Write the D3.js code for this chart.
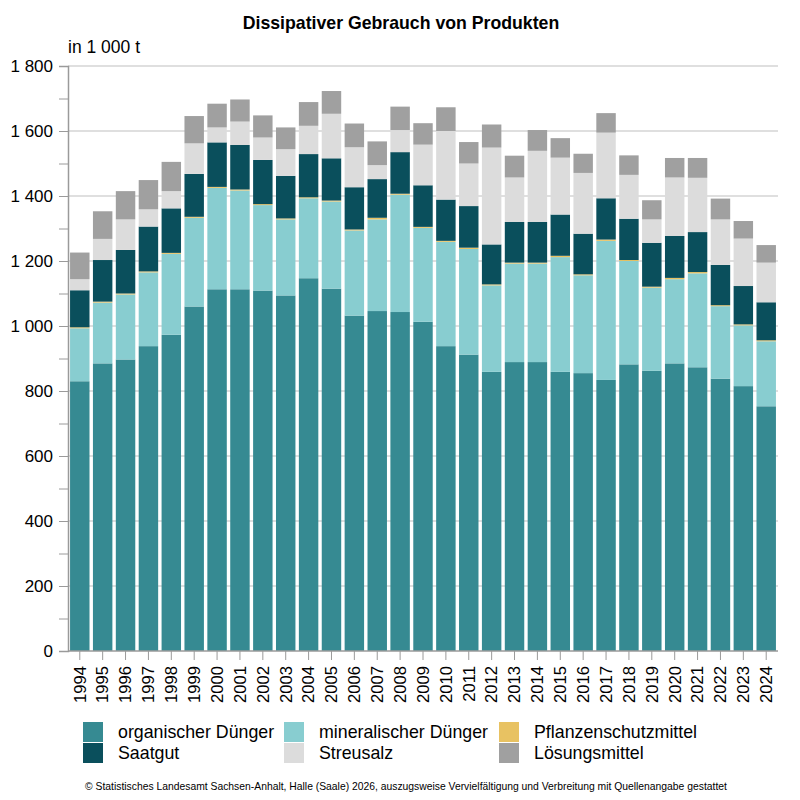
<!DOCTYPE html>
<html><head><meta charset="utf-8">
<script src="https://cdn.jsdelivr.net/npm/d3@7/dist/d3.min.js"></script>
<style>body{margin:0;background:#fff}svg{font-family:"Liberation Sans",Arial,sans-serif}</style>
</head><body><svg id="c" width="800" height="800"></svg>
<script>
const years = ["1994","1995","1996","1997","1998","1999","2000","2001","2002","2003","2004","2005","2006","2007","2008","2009","2010","2011","2012","2013","2014","2015","2016","2017","2018","2019","2020","2021","2022","2023","2024"];
const organisch = [830,885,897,938,973,1060,1113,1113,1109,1094,1147,1115,1032,1046,1043,1013,938,912,859,889,889,859,855,834,882,862,885,873,838,815,753];
const mineralisch = [163,187,200,227,249,273,312,304,263,234,246,268,262,282,361,289,321,325,266,303,303,353,301,428,318,256,259,289,223,187,200];
const pflanzenschutz = [3,3,3,3,3,3,3,3,3,3,3,3,3,5,3,3,3,4,3,3,3,4,3,4,3,3,4,4,3,3,3];
const saatgut = [114,128,134,138,137,132,137,137,136,131,133,130,130,119,128,128,127,128,123,125,125,127,125,127,127,135,129,123,124,118,117];
const streusalz = [34,65,94,53,53,94,46,72,69,82,87,137,123,43,68,125,211,131,298,137,219,175,187,202,135,72,180,167,140,146,122];
const loesung = [82,85,87,90,90,84,73,68,68,67,73,70,73,73,72,66,73,66,71,67,64,60,59,60,60,59,60,61,64,54,54];
const seriesNames = ["organischer Dünger","mineralischer Dünger","Pflanzenschutzmittel","Saatgut","Streusalz","Lösungsmittel"];
const colors = ["#368a92","#88cdd0","#e8c262","#0a4f5c","#dcdcdc","#a0a0a0"];
const yTicks = [0,200,400,600,800,1000,1200,1400,1600,1800];

const seriesData = [organisch,mineralisch,pflanzenschutz,saatgut,streusalz,loesung];
const table = years.map((y,i)=>{const o={year:y};seriesNames.forEach((n,k)=>o[n]=seriesData[k][i]);return o;});
const stacked = d3.stack().keys(seriesNames)(table);

const svg = d3.select("#c");
const L=68,R=778,T=66,B=651;
const x = d3.scaleBand().domain(years).range([L,R]).paddingInner(0.15).paddingOuter(0.09);
const y = d3.scaleLinear().domain([0,1800]).range([B,T]);

// gridlines
svg.append("g").selectAll("line").data(yTicks.slice(1)).join("line")
  .attr("x1",L).attr("x2",R).attr("y1",d=>y(d)).attr("y2",d=>y(d))
  .attr("stroke","#d4d4d4").attr("stroke-width",1.5);

// bars
svg.append("g").selectAll("g").data(stacked).join("g").attr("fill",(d,i)=>colors[i])
  .selectAll("rect").data(d=>d).join("rect")
  .attr("x",d=>x(d.data.year)).attr("width",x.bandwidth())
  .attr("y",d=>y(d[1])).attr("height",d=>Math.max(0,y(d[0])-y(d[1])));

// y axis
const ya = svg.append("g").attr("transform",`translate(${L},0)`)
  .call(d3.axisLeft(y).tickValues(d3.range(0,1801,100)).tickSize(9).tickFormat(d=>d%200===0?d3.format(",")(d).replace(","," "):""));
ya.select(".domain").attr("stroke","#9a9a9a").attr("stroke-width",1.5);
ya.selectAll(".tick line").attr("stroke","#9a9a9a").attr("stroke-width",1);
ya.selectAll("text").attr("font-size",17).attr("fill","#000").attr("x",-15);

// x axis
const xa = svg.append("g").attr("transform",`translate(0,${B})`)
  .call(d3.axisBottom(x).tickSize(9).tickSizeOuter(0));
xa.select(".domain").attr("stroke","#9a9a9a").attr("stroke-width",1.5).attr("d",`M${L},0H${R}`);
xa.selectAll(".tick line").attr("stroke","#9a9a9a");
xa.selectAll("text").attr("font-size",16.6).attr("fill","#000")
  .attr("transform","rotate(-90)").attr("text-anchor","end").attr("x",-15).attr("y",0).attr("dy","0.35em");

// title & unit
svg.append("text").attr("x",401).attr("y",29).attr("text-anchor","middle").attr("font-weight","bold").attr("font-size",17.7).text("Dissipativer Gebrauch von Produkten");
svg.append("text").attr("x",68).attr("y",53).attr("font-size",17.5).text("in 1 000 t");

// legend
const legPos = [[83,722],[284,722],[499,722],[83,743],[284,743],[499,743]];
const lg = svg.append("g").selectAll("g").data(seriesNames).join("g")
  .attr("transform",(d,i)=>`translate(${legPos[i][0]},${legPos[i][1]})`);
lg.append("rect").attr("width",20).attr("height",20).attr("fill",(d,i)=>colors[i]);
lg.append("text").attr("x",35).attr("y",10).attr("dy","0.36em").attr("font-size",17.8).text(d=>d);

svg.append("text").attr("x",406).attr("y",790).attr("text-anchor","middle").attr("font-size",10.35)
  .text("© Statistisches Landesamt Sachsen-Anhalt, Halle (Saale) 2026, auszugsweise Vervielfältigung und Verbreitung mit Quellenangabe gestattet");
</script></body></html>
